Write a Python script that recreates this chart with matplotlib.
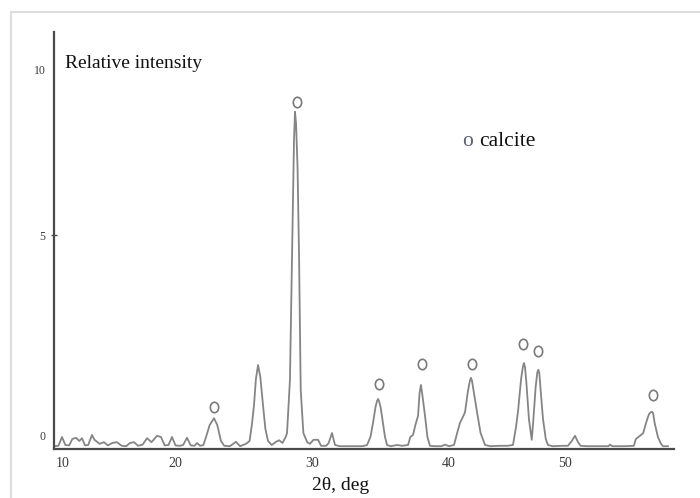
import matplotlib
matplotlib.use("Agg")
import matplotlib.pyplot as plt
from matplotlib.path import Path
from matplotlib.lines import Line2D
from matplotlib.transforms import Affine2D

# ---- data ----
two_theta = [10.40, 10.75, 11.03, 11.30, 11.60, 11.85, 12.14, 12.40, 12.61, 12.85,
             13.10, 13.40, 13.60, 13.72, 14.00, 14.35, 14.65, 15.00, 15.38, 15.75,
             16.10, 16.40, 16.72, 17.05, 17.40, 17.75, 18.10, 18.54, 18.85, 19.15,
             19.45, 19.72, 20.00, 20.35, 20.60, 20.91, 21.20, 21.50, 21.70, 21.95,
             22.20, 22.41, 22.70, 23.04, 23.30, 23.59, 23.85, 24.30, 24.78, 25.10,
             25.57, 25.85, 26.05, 26.20, 26.35, 26.52, 26.70, 26.91, 27.10, 27.31,
             27.60, 27.90, 28.18, 28.45, 28.70, 28.81, 29.04, 29.20, 29.36, 29.44,
             29.52, 29.64, 29.76, 29.89, 30.10, 30.40, 30.62, 30.90, 31.26, 31.50,
             31.90, 32.10, 32.36, 32.60, 33.00, 34.00, 34.80, 35.13, 35.40, 35.60,
             35.80, 35.92, 36.00, 36.08, 36.20, 36.39, 36.55, 36.71, 37.00, 37.50,
             37.90, 38.37, 38.55, 38.76, 38.95, 39.16, 39.28, 39.39, 39.50, 39.71,
             39.90, 40.10, 40.50, 41.00, 41.30, 41.60, 42.00, 42.25, 42.47, 42.70,
             42.87, 43.10, 43.26, 43.34, 43.42, 43.55, 43.82, 44.10, 44.45, 44.90,
             45.50, 46.20, 46.66, 46.90, 47.06, 47.30, 47.45, 47.53, 47.61, 47.72,
             47.92, 48.14, 48.25, 48.45, 48.58, 48.66, 48.74, 48.85, 49.03, 49.25,
             49.42, 49.80, 50.50, 51.00, 51.30, 51.56, 51.80, 52.00, 52.50, 53.50,
             54.20, 54.32, 54.50, 55.50, 56.20, 56.37, 56.69, 56.95, 57.17, 57.40,
             57.55, 57.64, 57.73, 57.85, 58.11, 58.35, 58.51, 58.90]
intensity = [0.02, 0.03, 0.25, 0.05, 0.04, 0.20, 0.23, 0.15, 0.22, 0.04,
             0.05, 0.30, 0.18, 0.15, 0.08, 0.12, 0.04, 0.10, 0.12, 0.03,
             0.02, 0.10, 0.12, 0.03, 0.06, 0.22, 0.12, 0.28, 0.25, 0.04,
             0.05, 0.25, 0.04, 0.03, 0.05, 0.23, 0.04, 0.03, 0.10, 0.03,
             0.05, 0.25, 0.55, 0.72, 0.55, 0.15, 0.03, 0.02, 0.13, 0.02,
             0.08, 0.15, 0.60, 1.05, 1.70, 2.05, 1.75, 1.05, 0.45, 0.15,
             0.05, 0.12, 0.17, 0.10, 0.25, 0.35, 1.68, 4.75, 7.68, 8.38,
             8.10, 7.00, 4.75, 1.43, 0.35, 0.12, 0.08, 0.18, 0.18, 0.03,
             0.03, 0.10, 0.35, 0.05, 0.02, 0.02, 0.02, 0.05, 0.25, 0.60,
             1.00, 1.15, 1.20, 1.15, 1.00, 0.60, 0.25, 0.05, 0.02, 0.05,
             0.03, 0.05, 0.25, 0.30, 0.55, 0.78, 1.35, 1.55, 1.30, 0.78,
             0.25, 0.03, 0.02, 0.02, 0.06, 0.02, 0.05, 0.35, 0.60, 0.75,
             0.87, 1.40, 1.66, 1.73, 1.66, 1.40, 0.87, 0.35, 0.05, 0.02,
             0.03, 0.03, 0.05, 0.50, 0.90, 1.70, 2.02, 2.10, 2.00, 1.60,
             0.70, 0.18, 0.60, 1.50, 1.86, 1.93, 1.85, 1.40, 0.70, 0.20,
             0.05, 0.02, 0.03, 0.03, 0.15, 0.28, 0.12, 0.03, 0.02, 0.02,
             0.02, 0.06, 0.02, 0.02, 0.03, 0.20, 0.28, 0.35, 0.60, 0.82,
             0.87, 0.88, 0.85, 0.60, 0.25, 0.08, 0.02, 0.02]

calcite_x = [23.04, 29.57, 36.07, 39.47, 43.42, 47.45, 48.66, 57.72]
calcite_y = [1.00, 8.63, 1.58, 2.08, 2.08, 2.58, 2.40, 1.30]

x_tick_pos = [11.11, 19.96, 30.78, 41.60, 50.77]
x_tick_labels = ["10", "20", "30", "40", "50"]
y_tick_pos = [0.28, 5.30, 9.43]
y_tick_labels = ["0", "5", "10"]

# ---- figure ----
plt.rcParams['font.family'] = ['Liberation Serif', 'DejaVu Serif']
fig = plt.figure(figsize=(7.0, 4.98), dpi=100)
ax = fig.add_axes([54/700, (498-449)/498, 620/700, 417/498])

ax.plot(two_theta, intensity, color='#858585', lw=1.3, solid_joinstyle='round')

ell = Path.unit_circle().transformed(Affine2D().scale(0.8, 1.0))
ax.plot(calcite_x, calcite_y, linestyle='none', marker=ell, markersize=7.5,
        markerfacecolor='none', markeredgecolor='#7a7a7a', markeredgewidth=1.2)

ax.set_xlim(10.40, 59.38)
ax.set_ylim(-0.05, 10.375)

for s in ['top', 'right']:
    ax.spines[s].set_visible(False)
for s in ['left', 'bottom']:
    ax.spines[s].set_color('#4a4a4a')
    ax.spines[s].set_linewidth(1.6)

ax.set_xticks(x_tick_pos)
ax.set_xticklabels(x_tick_labels)
ax.set_yticks(y_tick_pos)
ax.set_yticklabels(y_tick_labels)
ax.tick_params(axis='x', length=0, pad=6, labelsize=10, labelcolor='#3a3a3a')
ax.tick_params(axis='y', length=4, width=1, direction='inout', color='#4a4a4a',
               pad=4, labelsize=8.5, labelcolor='#3a3a3a')
# only the middle y tick shows a tick mark in the reference
yt = ax.yaxis.get_major_ticks()
for i in (0, 2):
    yt[i].tick1line.set_visible(False)

ax.set_xlabel('2θ, deg', fontsize=14, color='#111111')
ax.xaxis.set_label_coords(287/620, -0.068)

ax.text(11/620, (449-68)/417, 'Relative intensity', transform=ax.transAxes,
        fontsize=14, color='#111111', ha='left', va='baseline')
ax.text((462-54)/620, (449-146)/417, 'o', transform=ax.transAxes,
        fontsize=15.5, color='#5a6070', ha='left', va='baseline')
ax.text((479-54)/620, (449-146)/417, 'calcite', transform=ax.transAxes,
        fontsize=15.5, color='#111111', ha='left', va='baseline')

# light page frame (top and left edges)
fig.add_artist(Line2D([11/700, 1.0], [1-12/498, 1-12/498], transform=fig.transFigure,
                      color='#dddddd', lw=1.5))
fig.add_artist(Line2D([11/700, 11/700], [0.0, 1-12/498], transform=fig.transFigure,
                      color='#dddddd', lw=1.5))

fig.savefig('out.png', dpi=100)
